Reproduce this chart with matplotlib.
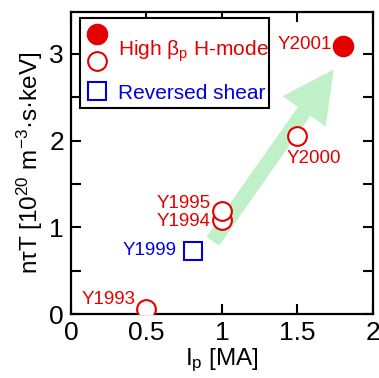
import matplotlib
matplotlib.use("Agg")
import matplotlib.pyplot as plt
from matplotlib.patches import FancyArrowPatch, ArrowStyle, Rectangle

plt.rcParams['font.family'] = ['Liberation Sans', 'DejaVu Sans']
plt.rcParams['mathtext.fontset'] = 'custom'
plt.rcParams['mathtext.rm'] = 'Liberation Sans'
plt.rcParams['mathtext.it'] = 'Liberation Sans:italic'

RED = '#e50000'
BLUE = '#0000e0'
GREEN = '#bff0c8'

# high beta_p H-mode shots
hbp_ip = [0.5, 1.0, 1.0, 1.5]
hbp_ntt = [0.06, 1.08, 1.19, 2.05]
hbp_year = ['Y1993', 'Y1994', 'Y1995', 'Y2000']
hbp_best_ip = [1.8]
hbp_best_ntt = [3.09]
hbp_best_year = ['Y2001']

# reversed shear shots
rs_ip = [0.81]
rs_ntt = [0.73]
rs_year = ['Y1999']

# label offsets (points) and alignment per year
label_pos = {
    'Y1993': (-8, 7, 'right'),
    'Y1994': (-8, -1, 'right'),
    'Y1995': (-8, 5, 'right'),
    'Y2000': (12, -16, 'center'),
    'Y2001': (-8, 1, 'right'),
    'Y1999': (-12, 0, 'right'),
}

fig = plt.figure(figsize=(3.79, 3.78), dpi=100)
ax = fig.add_axes([0.187, 0.169, 0.797, 0.799])

arrow = FancyArrowPatch((0.94, 0.84), (1.74, 2.82),
                        arrowstyle=ArrowStyle.Simple(head_length=37, head_width=38, tail_width=11),
                        mutation_scale=1, shrinkA=0, shrinkB=0,
                        color=GREEN, lw=0, zorder=1)
ax.add_patch(arrow)

filled_kw = dict(marker='o', ms=14.5, color=RED, mec=RED, ls='none')
open_kw = dict(marker='o', ms=13.5, mfc='white', mec=RED, mew=1.5, ls='none')
rs_kw = dict(marker='s', ms=13, mfc='none', mec=BLUE, mew=1.5, ls='none')

ax.plot(hbp_best_ip, hbp_best_ntt, zorder=3, **filled_kw)
ax.plot(hbp_ip, hbp_ntt, zorder=3, **open_kw)
ax.plot(rs_ip, rs_ntt, zorder=3, **rs_kw)

for xs, ys, names, col in [(hbp_ip, hbp_ntt, hbp_year, RED),
                           (hbp_best_ip, hbp_best_ntt, hbp_best_year, RED),
                           (rs_ip, rs_ntt, rs_year, BLUE)]:
    for x, y, name in zip(xs, ys, names):
        dx, dy, ha = label_pos[name]
        ax.annotate(name, (x, y), xytext=(dx, dy), textcoords='offset points',
                    ha=ha, va='center', color=col, fontsize=13.5, zorder=4)

ax.set_xlim(0, 2)
ax.set_ylim(0, 3.48)
ax.set_xticks([0, 0.5, 1, 1.5, 2])
ax.set_xticklabels(['0', '0.5', '1', '1.5', '2'])
ax.set_yticks([0, 1, 2, 3])
ax.set_yticks([0.5, 1.5, 2.5], minor=True)
ax.tick_params(which='both', direction='in', top=True, right=True, width=1.5,
               length=7, labelsize=19, pad=5)
for s in ax.spines.values():
    s.set_linewidth(1.6)

ax.set_xlabel('I$_\\mathrm{p}$ [MA]', fontsize=17.5, labelpad=1)
ax.set_ylabel('n\u03c4T [10$^{20}$ m$^{-3}$\u00b7s\u00b7keV]', fontsize=17.5, labelpad=3)

# legend box drawn by hand: stacked circles share one label
tr = ax.transAxes
ax.add_patch(Rectangle((0.030, 0.682), 0.626, 0.298, transform=tr, fc='white',
                       ec='black', lw=1.5, zorder=5))
ax.plot([0.088], [0.926], transform=tr, zorder=6, clip_on=False, **filled_kw)
ax.plot([0.088], [0.839], transform=tr, zorder=6, clip_on=False, **open_kw)
ax.plot([0.088], [0.738], transform=tr, zorder=6, clip_on=False, **rs_kw)
ax.text(0.155, 0.885, 'High \u03b2$_\\mathrm{p}$ H-mode', transform=tr, color=RED,
        fontsize=15, ha='left', va='center_baseline', zorder=6)
ax.text(0.155, 0.738, 'Reversed shear', transform=tr, color=BLUE,
        fontsize=15, ha='left', va='center_baseline', zorder=6)

fig.savefig('out.png', dpi=100)
